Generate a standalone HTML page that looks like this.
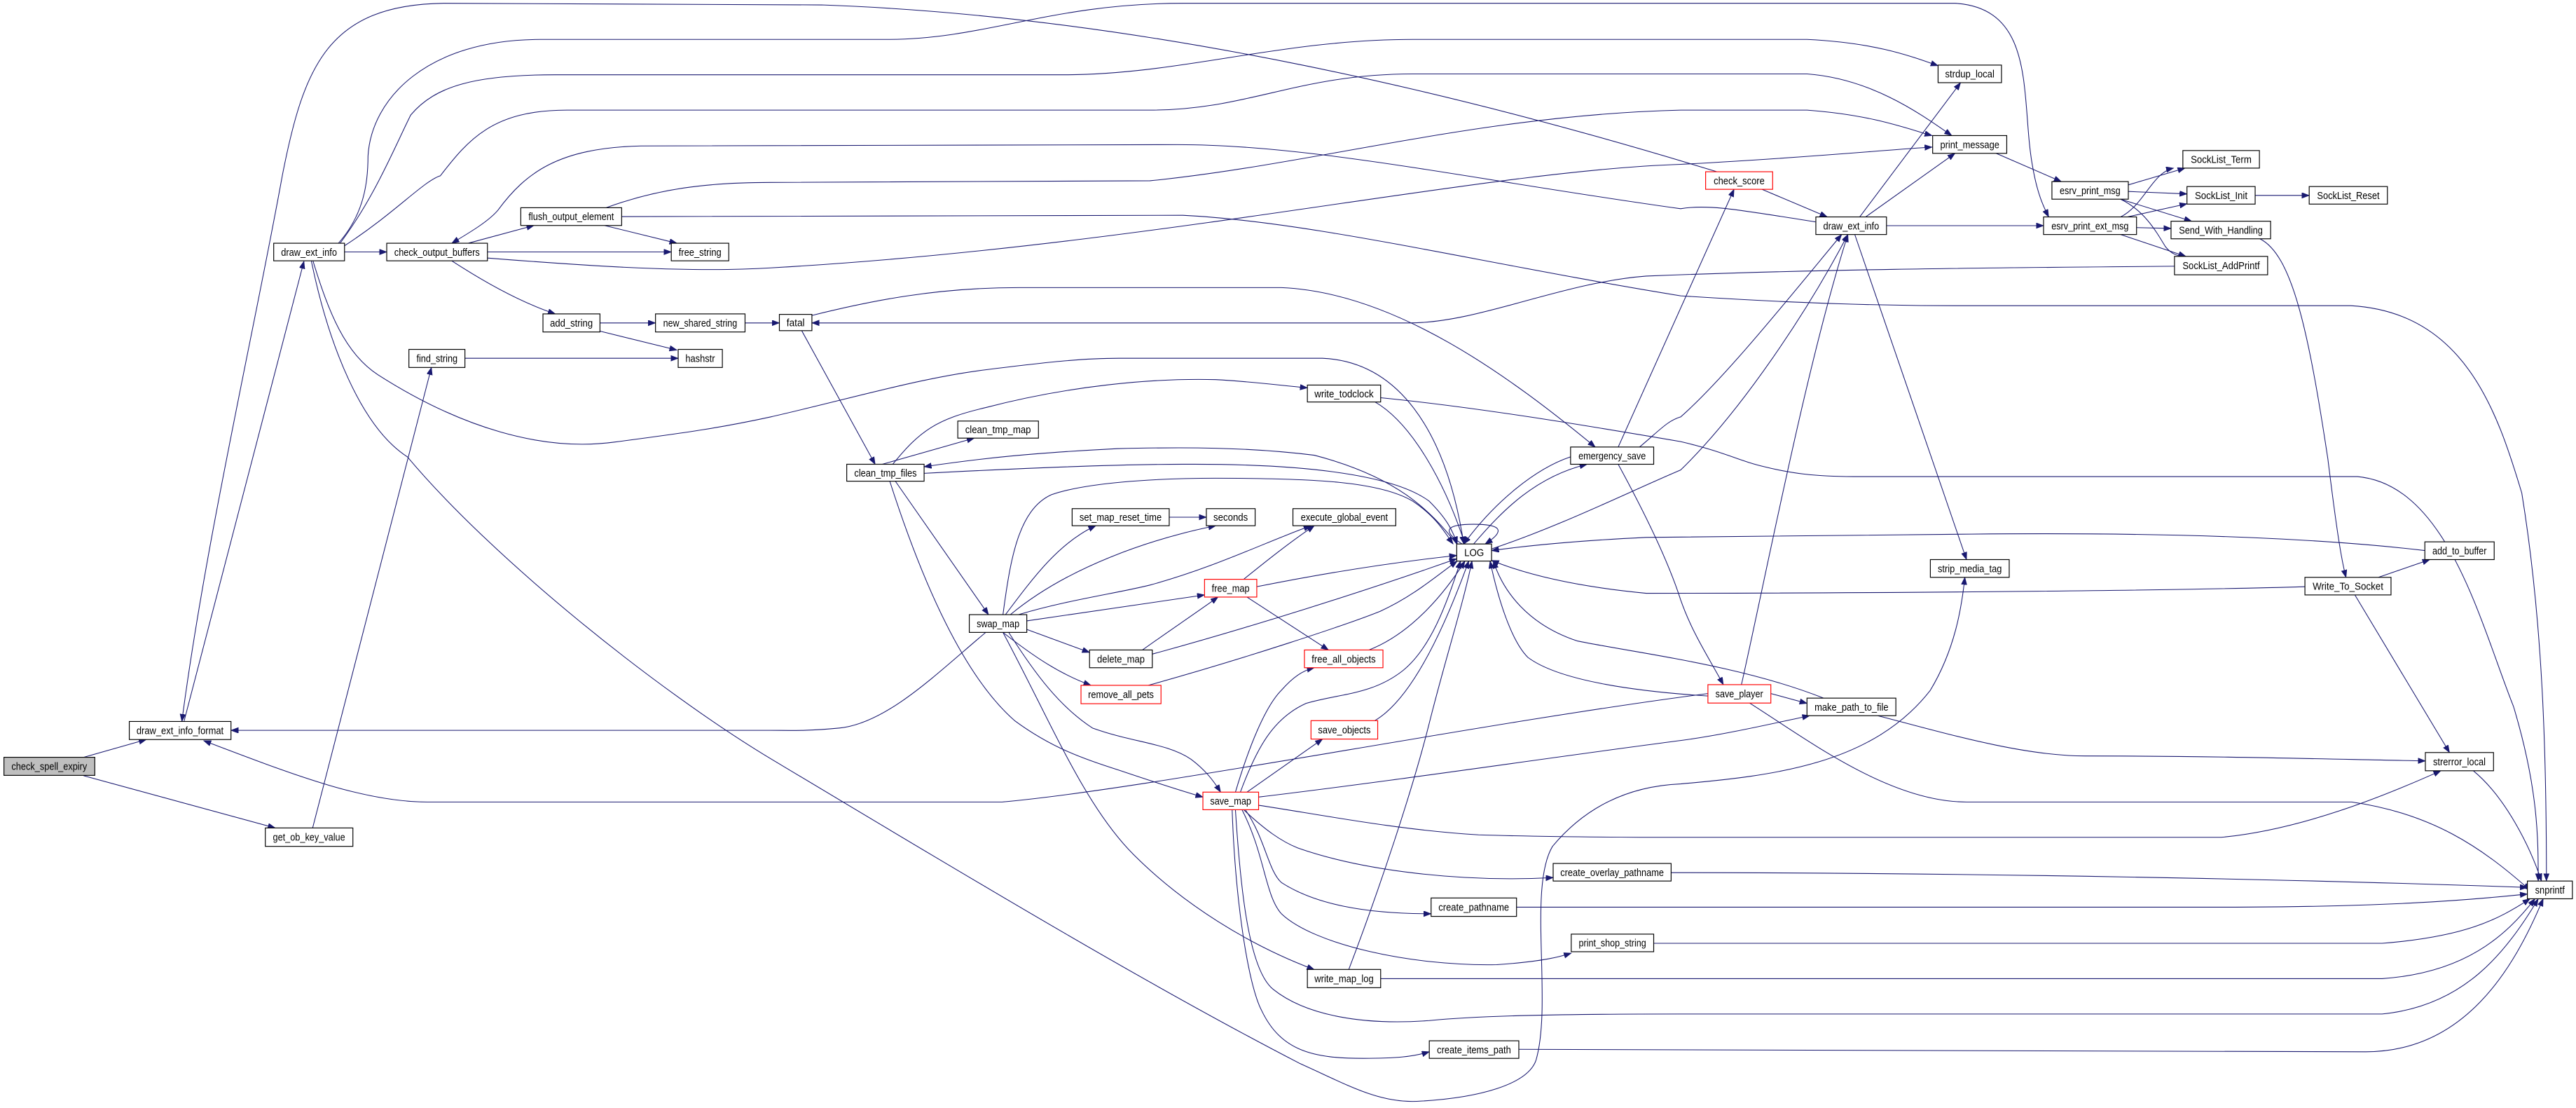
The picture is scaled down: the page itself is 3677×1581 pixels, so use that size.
<!DOCTYPE html>
<html><head><meta charset="utf-8">
<style>
html,body{margin:0;padding:0;background:#fff;}
svg{display:block;}
.e{fill:none;stroke:#191970;stroke-width:0.45;marker-end:url(#a);}
.n{fill:#fff;stroke:#000;stroke-width:0.5;}
.r{fill:#fff;stroke:#ff0000;stroke-width:0.5;}
.g{fill:#bfbfbf;stroke:#000;stroke-width:0.5;}
text{font-family:"Liberation Sans",sans-serif;font-size:6.2px;text-anchor:middle;fill:#000;}
</style></head><body>
<svg width="3677" height="1581" viewBox="0 0 1568 674.2" preserveAspectRatio="none" xmlns="http://www.w3.org/2000/svg">
<defs><marker id="a" markerUnits="userSpaceOnUse" markerWidth="5" markerHeight="4" refX="4.5" refY="1.7" orient="auto"><path d="M0,0 L4.5,1.7 L0,3.4 z" fill="#191970" stroke="#191970" stroke-width="0.3"/></marker></defs>
<g>
<path class="e" d="M50.9,460.8 L89,450"/>
<path class="e" d="M50.9,472 L167.5,503.8"/>
<path class="e" d="M112,439 L185,159"/>
<path class="e" d="M1045,104.5 C900,60 700,10 500,3 L270,2 C200,3 185,40 172,106 C155,200 125,330 110.7,439"/>
<path class="e" d="M206,148 C222,130 224,110 224,95 C226,60 260,24 329,24 L540,24 C600,24 640,2 720,2 L1190,2 C1240,5 1230,60 1237,100 C1240,118 1244,126 1247,132"/>
<path class="e" d="M207,148 C228,120 240,90 250,70 C265,52 290,45.5 338,45.5 L650,45.5 C720,45 780,24 860,24 L1100,24 C1140,26 1160,33 1179.7,40"/>
<path class="e" d="M209,150 C240,130 258,110 268,107 C285,85 300,67 345,67 L700,67 C760,67 790,45 860,45 L1100,45 C1140,48 1170,70 1188,82.5"/>
<path class="e" d="M1105,135 C1060,128 1040,124 1023,127 C900,110 800,88 717,88 L390,88.8 C340,90 320,105 303,128 C297,135 285,142 275,148"/>
<path class="e" d="M369,126.4 C400,115 430,111 469,111 L700,110 C800,100 900,70 1023,67 L1100,67 C1140,70 1160,78 1176,82.5"/>
<path class="e" d="M296.7,157 C360,162 420,166 469,163 C700,150 900,104 1023,100 C1100,96 1150,91 1176,89.5"/>
<path class="e" d="M378.4,131.8 L720,131 C800,135 900,160 1023,180 C1100,185 1150,186 1190,186 L1431,186 C1500,190 1520,250 1535,300 C1548,380 1550,460 1550,536"/>
<path class="e" d="M1323.6,162 C1200,163 1100,164 1002,168 C950,172 900,196.5 858,196.5 L494.2,196.5"/>
<path class="e" d="M494,192 C530,183 570,175 620,175 L780,175 C850,178 920,230 971,272"/>
<path class="e" d="M285,148 L325,137.2"/>
<path class="e" d="M296.7,153.3 L408.6,153.3"/>
<path class="e" d="M275,158.7 C300,175 320,185 338,191"/>
<path class="e" d="M368,137.2 L412,148"/>
<path class="e" d="M209.7,153.3 L235.4,153.3"/>
<path class="e" d="M365.2,196.5 L399,196.5"/>
<path class="e" d="M365.2,201.5 L412,213"/>
<path class="e" d="M283,218 L412.8,218"/>
<path class="e" d="M190.3,503.8 L262.6,223.6"/>
<path class="e" d="M453.5,196.5 L474.4,196.5"/>
<path class="e" d="M488,201.2 L532.7,282.5"/>
<path class="e" d="M190.5,158.7 C200,190 210,215 230,228 C280,260 330,275 374,269 C420,263 440,260 469,253.7 C520,242 560,230 600,225 C640,220 660,218 681,218 L805,218 C850,220 880,260 891,331"/>
<path class="e" d="M189.5,158.7 C200,210 220,260 248,278 C300,340 400,420 469,461.6 C600,540 700,600 791,647 C820,660 840,672 865,670 C900,668 930,660 935,645 C945,610 930,540 945,515 C970,485 1000,478 1023,477 C1080,472 1140,465 1175,420 C1190,395 1194,370 1196,351.3"/>
<path class="e" d="M600,384.8 C570,410 540,440 511,443 C490,445 480,444.4 469,444.4 L140.6,444.4"/>
<path class="e" d="M1039.6,422 C900,440 700,480 610,488 L260,488 C220,488 175,470 124,450.7"/>
<path class="e" d="M537,282.5 L593,266.6"/>
<path class="e" d="M543.4,282.5 C560,262 570,255 600,248 C650,235 700,230 740,231 C760,232 775,234 795.8,236"/>
<path class="e" d="M562.5,288 C620,285 680,282.5 720,282.5 C800,282 850,290 870,305 C880,315 884,322 887,331"/>
<path class="e" d="M886.7,331 C870,310 850,290 800,277 C760,272 720,272 680,273 C620,276 590,280 562.5,284"/>
<path class="e" d="M545,292.8 L601.7,374"/>
<path class="e" d="M541.6,292.8 C560,350 585,410 617.6,438.5 C640,455 660,462 681,468.6 C700,475 715,480 732.2,485"/>
<path class="e" d="M837,244.6 C860,258 880,295 891.7,331"/>
<path class="e" d="M840.4,242 C900,248 960,258 1023,268.7 C1050,275 1060,281 1074,284 C1090,288 1105,290 1128,290 L1435,290 C1490,295 1510,380 1530,430 C1545,480 1545,510 1545,536"/>
<path class="e" d="M610.5,374 C615,340 620,310 640,301 C660,294 700,291 740,291 C800,291 840,293 860,305 C875,315 880,325 884.5,331"/>
<path class="e" d="M612,374 C630,350 645,330 667,319.9"/>
<path class="e" d="M615,374 C650,345 700,328 740,319.9"/>
<path class="e" d="M620,374 C650,365 680,361 700,356 C740,345 770,330 798,319.9"/>
<path class="e" d="M625,377.8 L733.2,362"/>
<path class="e" d="M625,383 L663.2,397"/>
<path class="e" d="M610.5,384.8 C630,400 645,410 664,417"/>
<path class="e" d="M614,384.8 C630,410 645,430 665,443 C690,452 710,452 725,462 C733,468 738,474 743,482"/>
<path class="e" d="M610.5,384.8 C640,440 660,490 690,520 C720,550 760,575 800,590"/>
<path class="e" d="M711.7,314.7 L734.3,314.7"/>
<path class="e" d="M757,352.5 C770,342 785,330 800,319.9"/>
<path class="e" d="M765,357 C800,350 840,343 886.7,338"/>
<path class="e" d="M759,363.3 L808.6,395.5"/>
<path class="e" d="M695.4,395.5 C710,385 725,375 741.4,363.3"/>
<path class="e" d="M701.4,398 C760,382 830,360 886.7,340"/>
<path class="e" d="M699,417 C760,400 820,380 840,372 C860,363 875,350 887,341.4"/>
<path class="e" d="M833.3,395.5 C860,385 880,360 891.7,341.4"/>
<path class="e" d="M836.8,438.5 C860,425 880,380 894,341.4"/>
<path class="e" d="M752,482 C760,455 770,430 780,420 C787,412 793,408 800,406.3"/>
<path class="e" d="M755,482 C765,455 775,437 795,428 C815,422 835,423 854,408 C870,395 880,370 889,341.4"/>
<path class="e" d="M759,482 L805,449.7"/>
<path class="e" d="M821,589.9 C840,540 860,480 870,440 C880,400 890,370 896,341.4"/>
<path class="e" d="M766.1,485 C850,475 950,460 1023,450.6 C1050,447 1080,440 1101.5,435.5"/>
<path class="e" d="M766.1,490 C800,495 850,505 900,508 C950,509.5 1000,509.5 1023,509.5 L1352,509.5 C1400,505 1450,485 1485.7,469"/>
<path class="e" d="M757,492.7 C770,505 780,512 790,516 C830,530 890,537 945.4,534"/>
<path class="e" d="M758,492.7 C770,510 772,530 780,537 C800,550 830,556 871.1,556"/>
<path class="e" d="M756,492.7 C770,520 770,545 780,556 C800,575 860,588 911,587 C940,585 950,582 956.4,580"/>
<path class="e" d="M752,492.7 C755,540 760,590 775,602 C795,618 830,624 870,621 C900,618 950,617 1023,617 L1450,617 C1500,612 1525,580 1545,547"/>
<path class="e" d="M750,492.7 C752,550 760,600 768,615 C780,640 800,644 830,644 C850,644 860,643 870,640"/>
<path class="e" d="M890,331 C876,322 882,319 897,319 C912,319 918,322 904,331"/>
<path class="e" d="M897,331 C915,310 935,290 966,282.5"/>
<path class="e" d="M956,278 C935,285 910,305 891,331"/>
<path class="e" d="M985,272 L1055.5,115.2"/>
<path class="e" d="M998,272 C1010,262 1015,256 1023,253.7 C1050,230 1090,180 1121,142.7"/>
<path class="e" d="M907.9,334 C950,320 990,300 1023,286 C1060,250 1100,190 1124.8,142.7"/>
<path class="e" d="M985,282.5 C1000,310 1015,340 1023,365 C1030,385 1040,400 1049,416.6"/>
<path class="e" d="M1039.6,423.5 C1000,421 950,415 930,400 C920,390 912,365 907,341.4"/>
<path class="e" d="M1110,424.8 C1060,405 1000,398 960,390 C930,380 915,360 909,341.4"/>
<path class="e" d="M1476,335 C1400,326 1300,324 1200,325 C1100,326 1050,327 1002,327 C960,329 930,332 907.9,335"/>
<path class="e" d="M1403,357 C1300,360 1100,361 1002,361 C960,357 930,350 907.9,341"/>
<path class="e" d="M1060,416.6 C1075,350 1100,220 1124.8,142.7"/>
<path class="e" d="M1077.9,422 L1099.9,428"/>
<path class="e" d="M1065,427.8 C1100,450 1150,488 1197,488 L1431.5,488 C1480,495 1510,515 1540,541.7"/>
<path class="e" d="M1143,435.5 C1180,445 1230,460 1269,460 C1350,460 1420,462 1476.3,463"/>
<path class="e" d="M1505.5,469 C1525,485 1540,515 1547,536.1"/>
<path class="e" d="M1132,132 L1193.4,50.3"/>
<path class="e" d="M1135.6,132 L1190,93.3"/>
<path class="e" d="M1072.5,115.2 L1112.2,132"/>
<path class="e" d="M1148.3,137.3 L1243.9,137.3"/>
<path class="e" d="M1129,142.7 L1197,340.5"/>
<path class="e" d="M1215,93.3 L1254.7,110.5"/>
<path class="e" d="M1295.5,112.5 L1330,102.3"/>
<path class="e" d="M1295.5,116.5 L1331.2,118"/>
<path class="e" d="M1290.8,121.2 L1334,134.6"/>
<path class="e" d="M1290.8,121.2 C1305,128 1312,140 1318,150 C1322,155 1326,156 1330.5,156"/>
<path class="e" d="M1290.8,132 C1305,125 1310,105 1323,102.3"/>
<path class="e" d="M1295,132 L1331.2,124"/>
<path class="e" d="M1300.5,138.5 L1321.5,139"/>
<path class="e" d="M1290.8,142.7 L1330.5,156"/>
<path class="e" d="M1372.7,118.9 L1405.6,118.9"/>
<path class="e" d="M1375.6,145.3 C1395,155 1405,200 1417,279.5 C1422,320 1425,340 1428,351.3"/>
<path class="e" d="M1447.8,351.3 L1479,340.5"/>
<path class="e" d="M1433.4,362 L1491,457.9"/>
<path class="e" d="M1017.2,531 C1200,531 1400,535 1538.4,540"/>
<path class="e" d="M923.1,552 L1350,552 C1450,552 1500,548 1538.4,544"/>
<path class="e" d="M1006.6,574 L1450,574 C1500,570 1520,560 1540,546.9"/>
<path class="e" d="M840.4,595.5 L1450,595.5 C1500,592 1525,570 1543,546.9"/>
<path class="e" d="M924.5,638.5 L1440,640 C1500,640 1530,590 1548,546.9"/>
</g>
<g>
<rect class="g" x="2.4" y="460.8" width="55.3" height="11"/><text x="30" y="468.5" textLength="46" lengthAdjust="spacingAndGlyphs">check_spell_expiry</text>
<rect class="n" x="78.7" y="439" width="61.9" height="11"/><text x="109.6" y="446.7" textLength="53" lengthAdjust="spacingAndGlyphs">draw_ext_info_format</text>
<rect class="n" x="161.5" y="503.8" width="53.3" height="11.2"/><text x="188.1" y="511.6" textLength="44" lengthAdjust="spacingAndGlyphs">get_ob_key_value</text>
<rect class="n" x="166.6" y="148" width="43.1" height="10.7"/><text x="188.1" y="155.6" textLength="34" lengthAdjust="spacingAndGlyphs">draw_ext_info</text>
<rect class="n" x="235.4" y="148" width="61.3" height="10.7"/><text x="266" y="155.6" textLength="52" lengthAdjust="spacingAndGlyphs">check_output_buffers</text>
<rect class="n" x="317" y="126.4" width="61.4" height="10.8"/><text x="347.7" y="134" textLength="52" lengthAdjust="spacingAndGlyphs">flush_output_element</text>
<rect class="n" x="408.6" y="148" width="35" height="10.7"/><text x="426.1" y="155.6" textLength="26" lengthAdjust="spacingAndGlyphs">free_string</text>
<rect class="n" x="330.5" y="191" width="34.7" height="11"/><text x="347.8" y="198.7" textLength="26" lengthAdjust="spacingAndGlyphs">add_string</text>
<rect class="n" x="399" y="191" width="54.5" height="11"/><text x="426.2" y="198.7" textLength="45" lengthAdjust="spacingAndGlyphs">new_shared_string</text>
<rect class="n" x="248.9" y="212.6" width="34.1" height="11"/><text x="266" y="220.3" textLength="25" lengthAdjust="spacingAndGlyphs">find_string</text>
<rect class="n" x="412.8" y="212.6" width="26.9" height="11"/><text x="426.2" y="220.3" textLength="18" lengthAdjust="spacingAndGlyphs">hashstr</text>
<rect class="n" x="474.4" y="191.3" width="19.8" height="9.9"/><text x="484.3" y="198.5" textLength="11" lengthAdjust="spacingAndGlyphs">fatal</text>
<rect class="n" x="515.4" y="282.5" width="47.1" height="10.3"/><text x="539" y="289.9" textLength="38" lengthAdjust="spacingAndGlyphs">clean_tmp_files</text>
<rect class="n" x="583" y="256.2" width="49.1" height="10.4"/><text x="607.5" y="263.6" textLength="40" lengthAdjust="spacingAndGlyphs">clean_tmp_map</text>
<rect class="n" x="795.8" y="234.3" width="44.6" height="10.3"/><text x="818.1" y="241.7" textLength="36" lengthAdjust="spacingAndGlyphs">write_todclock</text>
<rect class="n" x="652.6" y="309.5" width="59.1" height="10.4"/><text x="682.1" y="316.9" textLength="50" lengthAdjust="spacingAndGlyphs">set_map_reset_time</text>
<rect class="n" x="734.3" y="309.5" width="29.7" height="10.4"/><text x="749.1" y="316.9" textLength="21" lengthAdjust="spacingAndGlyphs">seconds</text>
<rect class="n" x="787" y="309.5" width="62.6" height="10.4"/><text x="818.3" y="316.9" textLength="53" lengthAdjust="spacingAndGlyphs">execute_global_event</text>
<rect class="n" x="886.7" y="331" width="21.2" height="10.4"/><text x="897.3" y="338.4" textLength="12" lengthAdjust="spacingAndGlyphs">LOG</text>
<rect class="n" x="956" y="272" width="50.6" height="10.5"/><text x="981.3" y="279.5" textLength="41" lengthAdjust="spacingAndGlyphs">emergency_save</text>
<rect class="r" x="733.2" y="352.5" width="31.8" height="10.8"/><text x="749.1" y="360.1" textLength="23" lengthAdjust="spacingAndGlyphs">free_map</text>
<rect class="n" x="590" y="374" width="35" height="10.8"/><text x="607.5" y="381.6" textLength="26" lengthAdjust="spacingAndGlyphs">swap_map</text>
<rect class="n" x="663.2" y="395.5" width="38.2" height="10.8"/><text x="682.3" y="403.1" textLength="29" lengthAdjust="spacingAndGlyphs">delete_map</text>
<rect class="r" x="794" y="395.5" width="47.8" height="10.8"/><text x="817.9" y="403.1" textLength="39" lengthAdjust="spacingAndGlyphs">free_all_objects</text>
<rect class="r" x="658" y="417" width="48.7" height="11.2"/><text x="682.3" y="424.8" textLength="40" lengthAdjust="spacingAndGlyphs">remove_all_pets</text>
<rect class="r" x="798" y="438.5" width="40.6" height="11.2"/><text x="818.3" y="446.3" textLength="32" lengthAdjust="spacingAndGlyphs">save_objects</text>
<rect class="r" x="732.2" y="482" width="33.9" height="10.7"/><text x="749.1" y="489.6" textLength="25" lengthAdjust="spacingAndGlyphs">save_map</text>
<rect class="n" x="945.4" y="525.4" width="71.8" height="10.7"/><text x="981.3" y="533" textLength="63" lengthAdjust="spacingAndGlyphs">create_overlay_pathname</text>
<rect class="n" x="871.1" y="546.4" width="52" height="11.2"/><text x="897.1" y="554.2" textLength="43" lengthAdjust="spacingAndGlyphs">create_pathname</text>
<rect class="n" x="956.4" y="568.4" width="50.2" height="10.7"/><text x="981.5" y="576" textLength="41" lengthAdjust="spacingAndGlyphs">print_shop_string</text>
<rect class="n" x="795.8" y="589.9" width="44.6" height="11.1"/><text x="818.1" y="597.7" textLength="36" lengthAdjust="spacingAndGlyphs">write_map_log</text>
<rect class="n" x="870" y="633.3" width="54.5" height="10.7"/><text x="897.2" y="640.9" textLength="45" lengthAdjust="spacingAndGlyphs">create_items_path</text>
<rect class="n" x="1179.7" y="39.6" width="38.6" height="10.7"/><text x="1199" y="47.2" textLength="30" lengthAdjust="spacingAndGlyphs">strdup_local</text>
<rect class="n" x="1176.4" y="82.5" width="45.1" height="10.8"/><text x="1199" y="90.1" textLength="36" lengthAdjust="spacingAndGlyphs">print_message</text>
<rect class="r" x="1038.2" y="104.5" width="40.8" height="10.7"/><text x="1058.6" y="112.1" textLength="31" lengthAdjust="spacingAndGlyphs">check_score</text>
<rect class="n" x="1105.3" y="132" width="43" height="10.7"/><text x="1126.8" y="139.6" textLength="34" lengthAdjust="spacingAndGlyphs">draw_ext_info</text>
<rect class="n" x="1249" y="110.5" width="46.5" height="10.7"/><text x="1272.2" y="118.1" textLength="37" lengthAdjust="spacingAndGlyphs">esrv_print_msg</text>
<rect class="n" x="1243.9" y="132" width="56.6" height="10.7"/><text x="1272.2" y="139.6" textLength="47" lengthAdjust="spacingAndGlyphs">esrv_print_ext_msg</text>
<rect class="n" x="1328.7" y="91.6" width="46.6" height="10.7"/><text x="1352" y="99.2" textLength="37" lengthAdjust="spacingAndGlyphs">SockList_Term</text>
<rect class="n" x="1331.2" y="113.5" width="41.5" height="10.7"/><text x="1352" y="121.1" textLength="32" lengthAdjust="spacingAndGlyphs">SockList_Init</text>
<rect class="n" x="1405.6" y="113.5" width="47.6" height="10.7"/><text x="1429.4" y="121.1" textLength="38" lengthAdjust="spacingAndGlyphs">SockList_Reset</text>
<rect class="n" x="1321.5" y="134.6" width="60.6" height="10.7"/><text x="1351.8" y="142.2" textLength="51" lengthAdjust="spacingAndGlyphs">Send_With_Handling</text>
<rect class="n" x="1323.6" y="156" width="56.7" height="11.2"/><text x="1352" y="163.8" textLength="47" lengthAdjust="spacingAndGlyphs">SockList_AddPrintf</text>
<rect class="n" x="1175" y="340.5" width="48" height="10.8"/><text x="1199" y="348.1" textLength="39" lengthAdjust="spacingAndGlyphs">strip_media_tag</text>
<rect class="n" x="1476" y="329.7" width="42.2" height="10.8"/><text x="1497.1" y="337.3" textLength="33" lengthAdjust="spacingAndGlyphs">add_to_buffer</text>
<rect class="n" x="1403" y="351.3" width="52.4" height="10.7"/><text x="1429.2" y="358.9" textLength="43" lengthAdjust="spacingAndGlyphs">Write_To_Socket</text>
<rect class="r" x="1039.6" y="416.6" width="38.3" height="11.2"/><text x="1058.7" y="424.4" textLength="29" lengthAdjust="spacingAndGlyphs">save_player</text>
<rect class="n" x="1099.9" y="424.8" width="54.1" height="10.7"/><text x="1127" y="432.4" textLength="45" lengthAdjust="spacingAndGlyphs">make_path_to_file</text>
<rect class="n" x="1476.3" y="457.9" width="41.5" height="11.1"/><text x="1497" y="465.7" textLength="32" lengthAdjust="spacingAndGlyphs">strerror_local</text>
<rect class="n" x="1538.4" y="536.1" width="27.4" height="10.8"/><text x="1552.1" y="543.7" textLength="18" lengthAdjust="spacingAndGlyphs">snprintf</text>
</g>
</svg>
</body></html>
